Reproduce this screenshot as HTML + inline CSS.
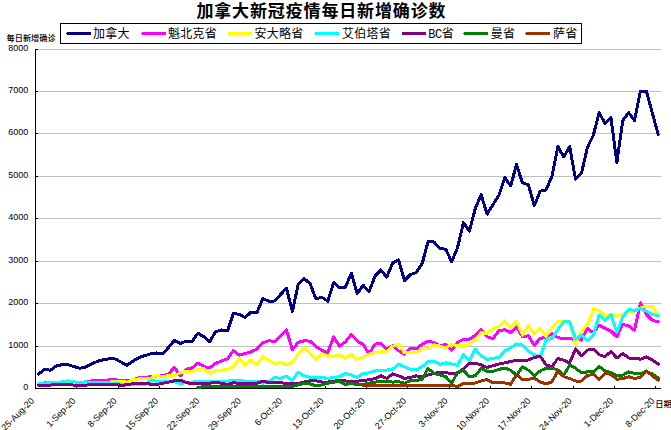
<!DOCTYPE html>
<html><head><meta charset="utf-8"><title>chart</title>
<style>
html,body{margin:0;padding:0;background:#fff;}
body{width:671px;height:430px;position:relative;overflow:hidden;}
text{fill:#000;}
.ti{font-family:"Liberation Sans","Noto Sans CJK SC",sans-serif;font-weight:bold;font-size:17px;letter-spacing:0.86px;}
.lg{font-family:"Liberation Sans","Noto Sans CJK SC",sans-serif;font-size:12px;letter-spacing:0.25px;}
.ax{font-family:"Liberation Sans","Noto Sans CJK SC",sans-serif;font-size:9px;}
.bc{font-family:"Liberation Mono",monospace;font-size:12px;letter-spacing:-0.5px;}
.yl{font-family:"Liberation Sans","Noto Sans CJK SC",sans-serif;font-size:8.2px;font-weight:500;}
</style></head><body>
<svg width="671" height="430" viewBox="0 0 671 430" style="position:absolute;left:0;top:0">
<g shape-rendering="crispEdges">
<rect x="38" y="49" width="623" height="1" fill="#c0c0c0"/>
<rect x="38" y="91" width="623" height="1" fill="#c0c0c0"/>
<rect x="38" y="133" width="623" height="1" fill="#c0c0c0"/>
<rect x="38" y="176" width="623" height="1" fill="#c0c0c0"/>
<rect x="38" y="218" width="623" height="1" fill="#c0c0c0"/>
<rect x="38" y="261" width="623" height="1" fill="#c0c0c0"/>
<rect x="38" y="303" width="623" height="1" fill="#c0c0c0"/>
<rect x="38" y="346" width="623" height="1" fill="#c0c0c0"/>
<rect x="35" y="49" width="1" height="340" fill="#000"/>
<rect x="35" y="388" width="626" height="1" fill="#000"/>
<rect x="36" y="49" width="2" height="1" fill="#000"/>
<rect x="36" y="91" width="2" height="1" fill="#000"/>
<rect x="36" y="133" width="2" height="1" fill="#000"/>
<rect x="36" y="176" width="2" height="1" fill="#000"/>
<rect x="36" y="218" width="2" height="1" fill="#000"/>
<rect x="36" y="261" width="2" height="1" fill="#000"/>
<rect x="36" y="303" width="2" height="1" fill="#000"/>
<rect x="36" y="346" width="2" height="1" fill="#000"/>
<rect x="36" y="388" width="2" height="1" fill="#000"/>
<rect x="35" y="386" width="1" height="2" fill="#000"/>
<rect x="76" y="386" width="1" height="2" fill="#000"/>
<rect x="118" y="386" width="1" height="2" fill="#000"/>
<rect x="159" y="386" width="1" height="2" fill="#000"/>
<rect x="200" y="386" width="1" height="2" fill="#000"/>
<rect x="242" y="386" width="1" height="2" fill="#000"/>
<rect x="283" y="386" width="1" height="2" fill="#000"/>
<rect x="325" y="386" width="1" height="2" fill="#000"/>
<rect x="366" y="386" width="1" height="2" fill="#000"/>
<rect x="407" y="386" width="1" height="2" fill="#000"/>
<rect x="449" y="386" width="1" height="2" fill="#000"/>
<rect x="490" y="386" width="1" height="2" fill="#000"/>
<rect x="531" y="386" width="1" height="2" fill="#000"/>
<rect x="573" y="386" width="1" height="2" fill="#000"/>
<rect x="614" y="386" width="1" height="2" fill="#000"/>
<rect x="655" y="386" width="1" height="2" fill="#000"/>
</g>
<g transform="translate(0,-0.4)" shape-rendering="crispEdges">
<polyline points="38.65,374.40 44.55,369.80 50.45,370.60 56.35,366.40 62.25,365.00 68.15,365.20 74.05,367.00 79.95,368.60 85.85,367.40 91.75,364.40 97.65,361.60 103.55,360.20 109.45,359.20 115.35,359.40 121.25,362.60 127.15,365.60 133.05,361.40 138.95,358.00 144.85,356.00 150.75,354.20 156.65,353.40 162.55,354.20 168.45,348.00 174.35,340.80 180.25,344.00 186.15,341.60 192.05,342.00 197.95,333.60 203.85,337.20 209.75,342.00 215.65,332.00 221.55,330.40 227.45,331.40 233.35,314.00 239.25,314.60 245.15,318.00 251.05,312.40 256.95,313.00 262.85,299.00 268.75,301.60 274.65,301.40 280.55,295.00 286.45,288.60 292.35,312.00 298.25,284.40 304.15,279.00 310.05,284.00 315.95,299.20 321.85,297.60 327.75,301.60 333.65,283.00 339.55,288.40 345.45,287.40 351.35,273.60 357.25,294.00 363.15,285.60 369.05,292.00 374.95,276.60 380.85,270.40 386.75,277.60 392.65,263.40 398.55,260.20 404.45,281.00 410.35,275.00 416.25,273.00 422.15,264.00 428.05,242.00 433.95,242.40 439.85,249.00 445.75,249.60 451.65,262.00 457.55,248.00 463.45,223.00 469.35,231.60 475.25,209.00 481.15,195.00 487.05,214.50 492.95,205.00 498.85,196.00 504.75,178.00 510.65,186.20 516.55,165.00 522.45,183.30 528.35,185.00 534.25,206.00 540.15,191.60 546.05,190.40 551.95,176.50 557.85,147.00 563.75,157.30 569.65,147.00 575.55,179.60 581.45,173.60 587.35,148.00 593.25,135.80 599.15,113.00 605.05,124.00 610.95,118.00 616.85,163.00 622.75,121.00 628.65,113.00 634.55,121.00 640.45,91.60 646.35,91.60 652.25,113.00 658.15,134.80" fill="none" stroke="#000080" stroke-width="3" stroke-linejoin="round" stroke-linecap="round"/>
<polyline points="38.65,384.80 44.55,383.30 50.45,383.80 56.35,383.30 62.25,383.30 68.15,382.80 74.05,383.30 79.95,383.30 85.85,382.30 91.75,381.30 97.65,380.80 103.55,380.80 109.45,380.30 115.35,380.30 121.25,380.80 127.15,381.30 133.05,380.30 138.95,378.20 144.85,377.60 150.75,377.20 156.65,376.20 162.55,376.40 168.45,374.20 174.35,368.00 180.25,376.20 186.15,369.60 192.05,368.30 197.95,363.50 203.85,366.80 209.75,368.30 215.65,363.80 221.55,361.40 227.45,359.20 233.35,351.10 239.25,355.60 245.15,353.90 251.05,352.30 256.95,349.40 262.85,343.20 268.75,341.20 274.65,341.80 280.55,336.50 286.45,330.30 292.35,350.10 298.25,342.80 304.15,341.20 310.05,341.50 315.95,346.80 321.85,350.60 327.75,353.10 333.65,337.40 339.55,346.50 345.45,342.30 351.35,334.90 357.25,341.50 363.15,344.80 369.05,354.40 374.95,344.50 380.85,344.00 386.75,349.40 392.65,346.10 398.55,351.10 404.45,354.40 410.35,348.50 416.25,349.40 422.15,344.50 428.05,341.50 433.95,342.80 439.85,346.50 445.75,344.80 451.65,350.60 457.55,342.70 463.45,339.70 469.35,339.70 475.25,335.60 481.15,330.10 487.05,337.20 492.95,338.90 498.85,331.10 504.75,330.10 510.65,332.80 516.55,327.30 522.45,337.20 528.35,336.10 534.25,345.50 540.15,338.90 546.05,337.70 551.95,333.90 557.85,338.00 563.75,339.30 569.65,339.30 575.55,339.60 581.45,340.50 587.35,328.90 593.25,333.30 599.15,325.60 605.05,328.90 610.95,331.40 616.85,337.10 622.75,324.70 628.65,326.40 634.55,330.50 640.45,303.20 646.35,314.80 652.25,320.60 658.15,322.30" fill="none" stroke="#ff00ff" stroke-width="3" stroke-linejoin="round" stroke-linecap="round"/>
<polyline points="38.65,384.80 44.55,384.30 50.45,384.30 56.35,383.80 62.25,383.80 68.15,383.30 74.05,383.80 79.95,383.80 85.85,383.30 91.75,382.80 97.65,382.80 103.55,382.50 109.45,382.50 115.35,381.50 121.25,382.00 127.15,382.50 133.05,380.30 138.95,379.30 144.85,379.00 150.75,378.50 156.65,375.40 162.55,377.10 168.45,375.90 174.35,376.00 180.25,373.30 186.15,371.60 192.05,371.60 197.95,370.10 203.85,368.80 209.75,373.80 215.65,371.30 221.55,370.50 227.45,369.60 233.35,367.10 239.25,358.90 245.15,365.80 251.05,360.50 256.95,365.00 262.85,357.20 268.75,360.50 274.65,364.30 280.55,362.70 286.45,365.00 292.35,362.70 298.25,354.70 304.15,348.10 310.05,353.90 315.95,360.00 321.85,353.90 327.75,356.10 333.65,356.70 339.55,355.10 345.45,358.40 351.35,354.70 357.25,359.70 363.15,357.70 369.05,354.40 374.95,353.10 380.85,352.30 386.75,352.30 392.65,346.50 398.55,344.50 404.45,353.10 410.35,353.10 416.25,353.10 422.15,348.90 428.05,349.40 433.95,345.10 439.85,346.50 445.75,348.10 451.65,344.80 457.55,346.30 463.45,346.30 469.35,344.70 475.25,340.50 481.15,333.10 487.05,333.90 492.95,328.90 498.85,326.80 504.75,321.20 510.65,328.10 516.55,321.50 522.45,335.60 528.35,325.60 534.25,334.70 540.15,328.50 546.05,336.70 551.95,328.10 557.85,322.30 563.75,321.40 569.65,321.80 575.55,344.30 581.45,332.20 587.35,325.60 593.25,309.90 599.15,310.70 605.05,316.50 610.95,315.10 616.85,316.10 622.75,314.80 628.65,311.50 634.55,312.30 640.45,308.20 646.35,306.50 652.25,306.50 658.15,316.50" fill="none" stroke="#ffff00" stroke-width="3" stroke-linejoin="round" stroke-linecap="round"/>
<polyline points="38.65,384.30 44.55,383.60 50.45,382.80 56.35,382.80 62.25,382.30 68.15,381.30 74.05,382.30 79.95,382.80 85.85,382.30 91.75,382.80 97.65,383.30 103.55,383.30 109.45,383.30 115.35,383.80 121.25,384.80 127.15,384.70 133.05,384.70 138.95,384.70 144.85,384.60 150.75,381.20 156.65,381.50 162.55,382.00 168.45,382.00 174.35,382.00 180.25,384.20 186.15,383.00 192.05,382.50 197.95,382.00 203.85,382.00 209.75,382.00 215.65,382.00 221.55,382.00 227.45,381.50 233.35,380.40 239.25,380.80 245.15,381.50 251.05,381.50 256.95,381.50 262.85,383.70 268.75,382.00 274.65,377.90 280.55,378.70 286.45,376.60 292.35,380.90 298.25,372.60 304.15,376.20 310.05,377.90 315.95,377.60 321.85,377.90 327.75,378.70 333.65,377.90 339.55,377.10 345.45,373.80 351.35,375.40 357.25,377.90 363.15,373.80 369.05,373.30 374.95,371.30 380.85,370.50 386.75,370.50 392.65,369.60 398.55,364.70 404.45,367.10 410.35,369.60 416.25,370.50 422.15,367.10 428.05,362.20 433.95,361.70 439.85,364.70 445.75,363.30 451.65,364.30 457.55,365.80 463.45,354.90 469.35,361.20 475.25,349.60 481.15,356.20 487.05,359.90 492.95,358.70 498.85,357.90 504.75,351.30 510.65,348.00 516.55,344.30 522.45,345.50 528.35,351.30 534.25,355.40 540.15,357.10 546.05,340.50 551.95,338.90 557.85,329.70 563.75,322.30 569.65,322.30 575.55,339.60 581.45,335.50 587.35,341.30 593.25,335.50 599.15,315.60 605.05,320.60 610.95,314.80 616.85,333.00 622.75,317.30 628.65,309.90 634.55,310.70 640.45,309.00 646.35,311.50 652.25,314.80 658.15,316.10" fill="none" stroke="#00ffff" stroke-width="3" stroke-linejoin="round" stroke-linecap="round"/>
<polyline points="38.65,385.80 44.55,385.80 50.45,385.50 56.35,384.50 62.25,385.10 68.15,385.10 74.05,385.50 79.95,386.10 85.85,385.50 91.75,385.10 97.65,384.50 103.55,384.50 109.45,384.50 115.35,384.50 121.25,385.80 127.15,385.10 133.05,384.10 138.95,383.40 144.85,383.60 150.75,384.60 156.65,384.80 162.55,383.70 168.45,382.50 174.35,381.20 180.25,380.40 186.15,382.90 192.05,384.20 197.95,383.70 203.85,383.70 209.75,383.70 215.65,382.50 221.55,383.70 227.45,384.80 233.35,383.20 239.25,383.70 245.15,383.70 251.05,383.70 256.95,383.70 262.85,381.50 268.75,382.90 274.65,383.20 280.55,383.20 286.45,383.70 292.35,383.70 298.25,383.70 304.15,382.50 310.05,381.20 315.95,381.20 321.85,382.50 327.75,382.50 333.65,381.50 339.55,381.20 345.45,381.30 351.35,382.00 357.25,381.50 363.15,381.20 369.05,379.90 374.95,379.20 380.85,376.20 386.75,378.70 392.65,374.30 398.55,376.20 404.45,378.70 410.35,377.90 416.25,376.20 422.15,377.60 428.05,375.40 433.95,373.80 439.85,372.90 445.75,372.90 451.65,374.20 457.55,373.50 463.45,369.30 469.35,363.50 475.25,363.70 481.15,365.30 487.05,367.80 492.95,366.20 498.85,364.50 504.75,363.20 510.65,362.00 516.55,360.40 522.45,360.40 528.35,360.40 534.25,357.90 540.15,356.60 546.05,365.30 551.95,367.00 557.85,358.90 563.75,360.70 569.65,363.20 575.55,349.30 581.45,356.20 587.35,350.60 593.25,349.40 599.15,355.20 605.05,357.00 610.95,351.80 616.85,358.40 622.75,353.90 628.65,358.40 634.55,358.40 640.45,359.60 646.35,357.20 652.25,360.20 658.15,364.50" fill="none" stroke="#800080" stroke-width="3" stroke-linejoin="round" stroke-linecap="round"/>
<polyline points="197.95,388.00 203.85,386.80 209.75,386.80 215.65,386.80 221.55,386.80 227.45,386.80 233.35,386.80 239.25,386.80 245.15,386.80 251.05,386.80 256.95,386.80 262.85,386.80 268.75,386.80 274.65,386.80 280.55,386.80 286.45,386.80 292.35,386.80 298.25,385.30 304.15,383.70 310.05,384.20 315.95,386.20 321.85,385.30 327.75,383.70 333.65,382.50 339.55,382.00 345.45,384.80 351.35,383.70 357.25,385.30 363.15,384.80 369.05,383.70 374.95,382.50 380.85,382.00 386.75,381.50 392.65,382.50 398.55,382.00 404.45,383.70 410.35,380.90 416.25,380.90 422.15,379.60 428.05,368.80 433.95,373.80 439.85,375.40 445.75,377.10 451.65,383.80 457.55,372.80 463.45,370.60 469.35,377.20 475.25,376.10 481.15,368.90 487.05,371.80 492.95,371.80 498.85,369.80 504.75,368.50 510.65,370.60 516.55,375.60 522.45,367.30 528.35,370.60 534.25,376.10 540.15,371.40 546.05,368.50 551.95,368.50 557.85,370.30 563.75,375.60 569.65,365.60 575.55,368.50 581.45,373.10 587.35,372.30 593.25,372.30 599.15,366.80 605.05,371.40 610.95,373.10 616.85,376.10 622.75,375.60 628.65,372.30 634.55,373.90 640.45,373.90 646.35,371.80 652.25,374.40 658.15,378.40" fill="none" stroke="#008000" stroke-width="3" stroke-linejoin="round" stroke-linecap="round"/>
<polyline points="363.15,385.90 369.05,385.90 374.95,385.90 380.85,385.90 386.75,385.90 392.65,385.90 398.55,385.90 404.45,385.90 410.35,385.90 416.25,385.90 422.15,385.90 428.05,385.90 433.95,385.90 439.85,385.90 445.75,385.90 451.65,385.90 457.55,386.80 463.45,383.80 469.35,384.40 475.25,383.30 481.15,381.40 487.05,380.00 492.95,383.00 498.85,383.30 504.75,383.30 510.65,384.70 516.55,375.10 522.45,380.00 528.35,379.70 534.25,378.40 540.15,382.20 546.05,384.30 551.95,382.20 557.85,371.40 563.75,377.00 569.65,378.90 575.55,381.40 581.45,381.40 587.35,376.10 593.25,374.40 599.15,379.70 605.05,373.90 610.95,374.70 616.85,379.70 622.75,378.90 628.65,377.20 634.55,378.90 640.45,377.70 646.35,371.40 652.25,376.10 658.15,380.50" fill="none" stroke="#993300" stroke-width="3" stroke-linejoin="round" stroke-linecap="round"/>
</g>
<rect x="60.5" y="23.5" width="521" height="20" fill="#fff" stroke="#000" stroke-width="1" shape-rendering="crispEdges"/>
<line x1="67.7" y1="33.5" x2="89.5" y2="33.5" stroke="#000080" stroke-width="3" stroke-linecap="round" shape-rendering="crispEdges"/>
<text x="93" y="38.3" class="lg">加拿大</text>
<line x1="142.7" y1="33.5" x2="164.5" y2="33.5" stroke="#ff00ff" stroke-width="3" stroke-linecap="round" shape-rendering="crispEdges"/>
<text x="168" y="38.3" class="lg">魁北克省</text>
<line x1="229.2" y1="33.5" x2="251" y2="33.5" stroke="#ffff00" stroke-width="3" stroke-linecap="round" shape-rendering="crispEdges"/>
<text x="254.5" y="38.3" class="lg">安大略省</text>
<line x1="315.7" y1="33.5" x2="337.5" y2="33.5" stroke="#00ffff" stroke-width="3" stroke-linecap="round" shape-rendering="crispEdges"/>
<text x="342" y="38.3" class="lg">艾伯塔省</text>
<line x1="403.2" y1="33.5" x2="425" y2="33.5" stroke="#800080" stroke-width="3" stroke-linecap="round" shape-rendering="crispEdges"/>
<text x="428.3" y="38.3" class="lg"><tspan class="bc">BC</tspan>省</text>
<line x1="464.7" y1="33.5" x2="486.5" y2="33.5" stroke="#008000" stroke-width="3" stroke-linecap="round" shape-rendering="crispEdges"/>
<text x="490.8" y="38.3" class="lg">曼省</text>
<line x1="526.7" y1="33.5" x2="548.5" y2="33.5" stroke="#993300" stroke-width="3" stroke-linecap="round" shape-rendering="crispEdges"/>
<text x="553" y="38.3" class="lg">萨省</text>
<text x="28.2" y="50.8" class="ax" text-anchor="end">8000</text>
<text x="28.2" y="92.8" class="ax" text-anchor="end">7000</text>
<text x="28.2" y="134.8" class="ax" text-anchor="end">6000</text>
<text x="28.2" y="177.8" class="ax" text-anchor="end">5000</text>
<text x="28.2" y="219.8" class="ax" text-anchor="end">4000</text>
<text x="28.2" y="262.8" class="ax" text-anchor="end">3000</text>
<text x="28.2" y="304.8" class="ax" text-anchor="end">2000</text>
<text x="28.2" y="347.8" class="ax" text-anchor="end">1000</text>
<text x="28.2" y="389.8" class="ax" text-anchor="end">0</text>
<text transform="translate(34.7,401.5) rotate(-45)" class="ax" text-anchor="end">25-Aug-20</text>
<text transform="translate(76.1,401.5) rotate(-45)" class="ax" text-anchor="end">1-Sep-20</text>
<text transform="translate(117.4,401.5) rotate(-45)" class="ax" text-anchor="end">8-Sep-20</text>
<text transform="translate(158.8,401.5) rotate(-45)" class="ax" text-anchor="end">15-Sep-20</text>
<text transform="translate(200.1,401.5) rotate(-45)" class="ax" text-anchor="end">22-Sep-20</text>
<text transform="translate(241.5,401.5) rotate(-45)" class="ax" text-anchor="end">29-Sep-20</text>
<text transform="translate(282.9,401.5) rotate(-45)" class="ax" text-anchor="end">6-Oct-20</text>
<text transform="translate(324.2,401.5) rotate(-45)" class="ax" text-anchor="end">13-Oct-20</text>
<text transform="translate(365.6,401.5) rotate(-45)" class="ax" text-anchor="end">20-Oct-20</text>
<text transform="translate(406.9,401.5) rotate(-45)" class="ax" text-anchor="end">27-Oct-20</text>
<text transform="translate(448.3,401.5) rotate(-45)" class="ax" text-anchor="end">3-Nov-20</text>
<text transform="translate(489.7,401.5) rotate(-45)" class="ax" text-anchor="end">10-Nov-20</text>
<text transform="translate(531.0,401.5) rotate(-45)" class="ax" text-anchor="end">17-Nov-20</text>
<text transform="translate(572.4,401.5) rotate(-45)" class="ax" text-anchor="end">24-Nov-20</text>
<text transform="translate(613.7,401.5) rotate(-45)" class="ax" text-anchor="end">1-Dec-20</text>
<text transform="translate(655.1,401.5) rotate(-45)" class="ax" text-anchor="end">8-Dec-20</text>
<text x="321.4" y="16.6" class="ti" text-anchor="middle">加拿大新冠疫情每日新增确诊数</text>
<text x="6.5" y="41.1" class="yl">每日新增确诊</text>
<text x="655.2" y="406.9" class="yl">日期</text>
</svg>
</body></html>
